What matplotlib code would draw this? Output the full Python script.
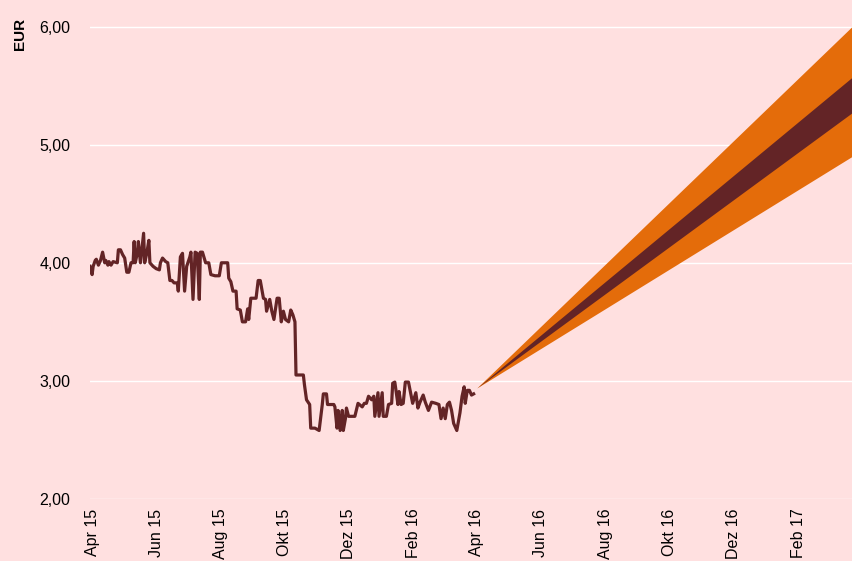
import matplotlib
matplotlib.use("Agg")
import matplotlib.pyplot as plt
import pandas as pd

plt.rcParams['font.family'] = ['Liberation Sans', 'DejaVu Sans']

# share price (EUR)
price_dates = [
    "2015-03-30", "2015-04-01", "2015-04-02", "2015-04-04", "2015-04-05", "2015-04-07",
    "2015-04-09", "2015-04-11", "2015-04-13", "2015-04-14", "2015-04-16", "2015-04-17",
    "2015-04-19", "2015-04-21", "2015-04-25", "2015-04-26", "2015-04-28", "2015-04-30",
    "2015-05-02", "2015-05-04", "2015-05-06", "2015-05-08", "2015-05-10", "2015-05-11",
    "2015-05-12", "2015-05-14", "2015-05-15", "2015-05-17", "2015-05-20", "2015-05-21",
    "2015-05-23", "2015-05-25", "2015-05-26", "2015-05-29", "2015-06-01", "2015-06-04",
    "2015-06-05", "2015-06-07", "2015-06-10", "2015-06-12", "2015-06-14", "2015-06-16",
    "2015-06-18", "2015-06-21", "2015-06-22", "2015-06-24", "2015-06-26", "2015-06-28",
    "2015-06-30", "2015-07-03", "2015-07-04", "2015-07-06", "2015-07-08", "2015-07-10",
    "2015-07-12", "2015-07-13", "2015-07-15", "2015-07-18", "2015-07-21", "2015-07-23",
    "2015-07-27", "2015-07-31", "2015-08-02", "2015-08-06", "2015-08-08", "2015-08-09",
    "2015-08-11", "2015-08-13", "2015-08-16", "2015-08-17", "2015-08-20", "2015-08-22",
    "2015-08-25", "2015-08-27", "2015-08-28", "2015-08-30", "2015-09-02", "2015-09-04",
    "2015-09-06", "2015-09-08", "2015-09-11", "2015-09-13", "2015-09-14", "2015-09-17",
    "2015-09-19", "2015-09-21", "2015-09-24", "2015-09-26", "2015-09-28", "2015-09-30",
    "2015-10-02", "2015-10-05", "2015-10-07", "2015-10-09", "2015-10-11", "2015-10-12",
    "2015-10-19", "2015-10-20", "2015-10-22", "2015-10-25", "2015-10-26", "2015-10-30",
    "2015-11-03", "2015-11-06", "2015-11-07", "2015-11-10", "2015-11-11", "2015-11-17",
    "2015-11-18", "2015-11-20", "2015-11-21", "2015-11-23", "2015-11-25", "2015-11-26",
    "2015-11-28", "2015-11-29", "2015-12-01", "2015-12-07", "2015-12-10", "2015-12-14",
    "2015-12-16", "2015-12-18", "2015-12-20", "2015-12-23", "2015-12-25", "2015-12-26",
    "2015-12-29", "2015-12-30", "2016-01-02", "2016-01-03", "2016-01-06", "2016-01-08",
    "2016-01-11", "2016-01-12", "2016-01-14", "2016-01-17", "2016-01-18", "2016-01-20",
    "2016-01-22", "2016-01-24", "2016-01-27", "2016-01-29", "2016-01-31", "2016-02-03",
    "2016-02-05", "2016-02-07", "2016-02-10", "2016-02-12", "2016-02-15", "2016-02-18",
    "2016-02-22", "2016-02-25", "2016-02-27", "2016-02-29", "2016-03-02", "2016-03-04",
    "2016-03-06", "2016-03-08", "2016-03-10", "2016-03-13", "2016-03-16", "2016-03-18",
    "2016-03-20", "2016-03-21", "2016-03-23", "2016-03-25", "2016-03-27", "2016-03-29",
]
price_values = [
    3.97, 3.90, 3.97, 4.02, 4.03, 3.98,
    4.02, 4.09, 4.00, 4.02, 3.98, 4.01,
    3.98, 4.01, 4.00, 4.11, 4.11, 4.07,
    4.04, 3.92, 3.92, 4.00, 4.00, 4.18,
    4.00, 4.08, 4.18, 4.00, 4.25, 4.00,
    4.08, 4.19, 4.00, 3.97, 3.95, 3.94,
    4.00, 4.04, 4.01, 4.00, 3.85, 3.85,
    3.83, 3.83, 3.76, 4.05, 4.08, 3.76,
    3.97, 4.05, 4.09, 3.69, 4.09, 4.08,
    3.69, 4.09, 4.09, 4.00, 4.00, 3.90,
    3.89, 3.89, 4.00, 4.00, 4.00, 3.87,
    3.84, 3.76, 3.76, 3.61, 3.60, 3.50,
    3.50, 3.61, 3.52, 3.70, 3.70, 3.70,
    3.85, 3.85, 3.70, 3.69, 3.59, 3.69,
    3.59, 3.52, 3.70, 3.70, 3.50, 3.59,
    3.52, 3.50, 3.60, 3.56, 3.50, 3.05,
    3.05, 2.97, 2.84, 2.80, 2.60, 2.60,
    2.58, 2.80, 2.89, 2.89, 2.80, 2.80,
    2.78, 2.60, 2.75, 2.58, 2.75, 2.58,
    2.68, 2.77, 2.70, 2.70, 2.81, 2.78,
    2.81, 2.81, 2.87, 2.84, 2.87, 2.70,
    2.90, 2.70, 2.90, 2.70, 2.70, 2.80,
    2.81, 2.98, 2.99, 2.80, 2.91, 2.80,
    2.81, 2.99, 2.99, 2.90, 2.81, 2.90,
    2.77, 2.82, 2.88, 2.82, 2.75, 2.82,
    2.81, 2.80, 2.68, 2.77, 2.68, 2.80,
    2.82, 2.75, 2.64, 2.58, 2.73, 2.87,
    2.95, 2.81, 2.92, 2.92, 2.88, 2.89,
]

# forecast fan: start point and end values of the bands
fan_dates = ["2016-04-01", "2017-03-24"]
fan_outer_low = [2.94, 4.90]
fan_outer_high = [2.94, 6.00]
fan_inner_low = [2.94, 5.27]
fan_inner_high = [2.94, 5.57]

tick_dates = ["2015-04-01", "2015-06-01", "2015-08-01", "2015-10-01", "2015-12-01",
              "2016-02-01", "2016-04-01", "2016-06-01", "2016-08-01", "2016-10-01",
              "2016-12-01", "2017-02-01"]
tick_labels = ["Apr 15", "Jun 15", "Aug 15", "Okt 15", "Dez 15", "Feb 16",
               "Apr 16", "Jun 16", "Aug 16", "Okt 16", "Dez 16", "Feb 17"]
y_ticks = [2, 3, 4, 5, 6]

bg = '#ffe0e0'
dark = '#632426'
orange = '#e46c0a'

fig = plt.figure(figsize=(8.52, 5.61), dpi=100, facecolor=bg)
ax = fig.add_axes([90 / 852, 1 - 499 / 561, 1 - 90 / 852, 499 / 561])
ax.set_facecolor(bg)

x_price = pd.to_datetime(price_dates)
x_fan = pd.to_datetime(fan_dates)

ax.fill_between(x_fan, fan_outer_low, fan_outer_high, color=orange, linewidth=0, zorder=2)
ax.fill_between(x_fan, fan_inner_low, fan_inner_high, color=dark, linewidth=0, zorder=3)
ax.plot(x_price, price_values, color=dark, linewidth=2.3, zorder=4)

ax.set_xlim(pd.Timestamp("2015-03-30"), pd.Timestamp("2017-03-24"))
ax.set_ylim(2.0, 6.225)

ax.set_yticks(y_ticks)
ax.set_yticklabels([f"{v:.2f}".replace('.', ',') for v in y_ticks], fontsize=11.5)
ax.set_xticks(pd.to_datetime(tick_dates))
ax.set_xticklabels(tick_labels, rotation=90, fontsize=11.5, va='top', ha='center')
ax.tick_params(axis='both', length=0)
ax.tick_params(axis='y', pad=14)
ax.tick_params(axis='x', pad=7)

ax.grid(axis='y', color='white', linewidth=1.0, zorder=1)
ax.set_axisbelow(True)
for s in ax.spines.values():
    s.set_visible(False)

fig.text(0.024, 1 - 34 / 561, "EUR", rotation=90, ha='center', va='center',
         fontsize=11, fontweight='bold')

fig.savefig("out.png", dpi=100, facecolor=bg)
